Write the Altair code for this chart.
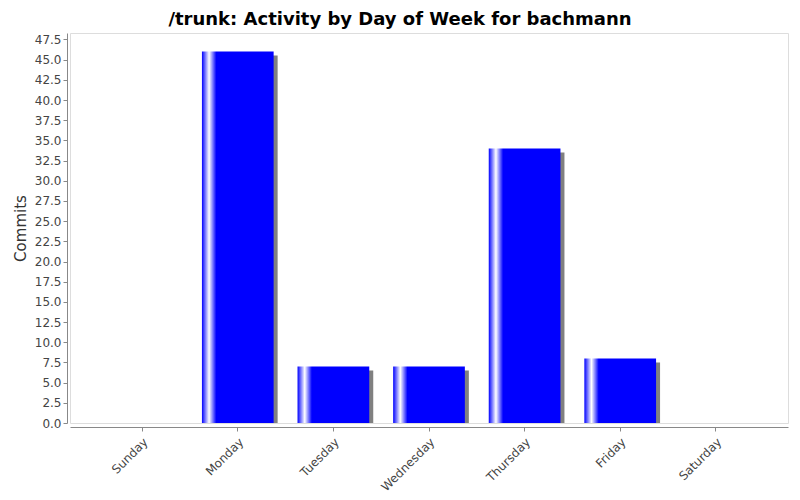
import altair as alt
import pandas as pd

days = ["Sunday", "Monday", "Tuesday", "Wednesday", "Thursday", "Friday", "Saturday"]
commits = [0, 46, 7, 7, 34, 8, 0]
y_ticks = [0.0, 2.5, 5.0, 7.5, 10.0, 12.5, 15.0, 17.5, 20.0, 22.5, 25.0, 27.5,
           30.0, 32.5, 35.0, 37.5, 40.0, 42.5, 45.0, 47.5]

df = pd.DataFrame({"day": days, "commits": commits})

FONT = "DejaVu Sans"

x_enc = alt.X(
    "day:N",
    sort=days,
    title=None,
    scale=alt.Scale(domain=days, paddingInner=0.25, paddingOuter=0.38),
    axis=alt.Axis(
        labelAngle=-45, labelFont=FONT, labelFontSize=12, labelColor="#444444",
        domainColor="#888888", tickColor="#888888", tickSize=4, offset=4,
        labelPadding=5, grid=False,
    ),
)
y_enc = alt.Y(
    "commits:Q",
    title="Commits",
    stack=None,
    scale=alt.Scale(domain=[0, 48.3], nice=False),
    axis=alt.Axis(
        values=y_ticks, format=".1f", labelFont=FONT, labelFontSize=12,
        labelColor="#444444", domainColor="#888888", tickColor="#888888",
        tickSize=4, offset=3, labelPadding=2, grid=False,
        titleFont=FONT, titleFontSize=15, titleFontWeight="normal",
        titleColor="#333333", titlePadding=6,
    ),
)

base = alt.Chart(df).transform_filter(alt.datum.commits > 0)

shadow = base.mark_bar(color="#808080", xOffset=4, yOffset=4, y2Offset=0.01).encode(
    x=x_enc, y=y_enc, y2=alt.datum(0)
)

gradient = {
    "gradient": "linear",
    "x1": 0, "x2": 1, "y1": 0, "y2": 0,
    "stops": [
        {"offset": 0.0, "color": "#0000ff"},
        {"offset": 0.1, "color": "#ffffff"},
        {"offset": 0.2, "color": "#0000ff"},
        {"offset": 1.0, "color": "#0000ff"},
    ],
}
bars = base.mark_bar(color=gradient).encode(x=x_enc, y=y_enc)

chart = (
    alt.layer(shadow, bars)
    .properties(
        width=718,
        height=390,
        autosize="none",
        padding={"left": 62, "top": 25, "right": 4, "bottom": 75},
        title=alt.TitleParams(
            "/trunk: Activity by Day of Week for bachmann",
            font=FONT, fontSize=18, fontWeight="bold", color="#000000",
            anchor="middle", dx=-29, offset=4,
        ),
    )
    .configure_view(stroke="#808080", strokeWidth=1)
    .configure(background="white")
)

chart.save("out.html", embed_options={"renderer": "svg", "actions": False})
